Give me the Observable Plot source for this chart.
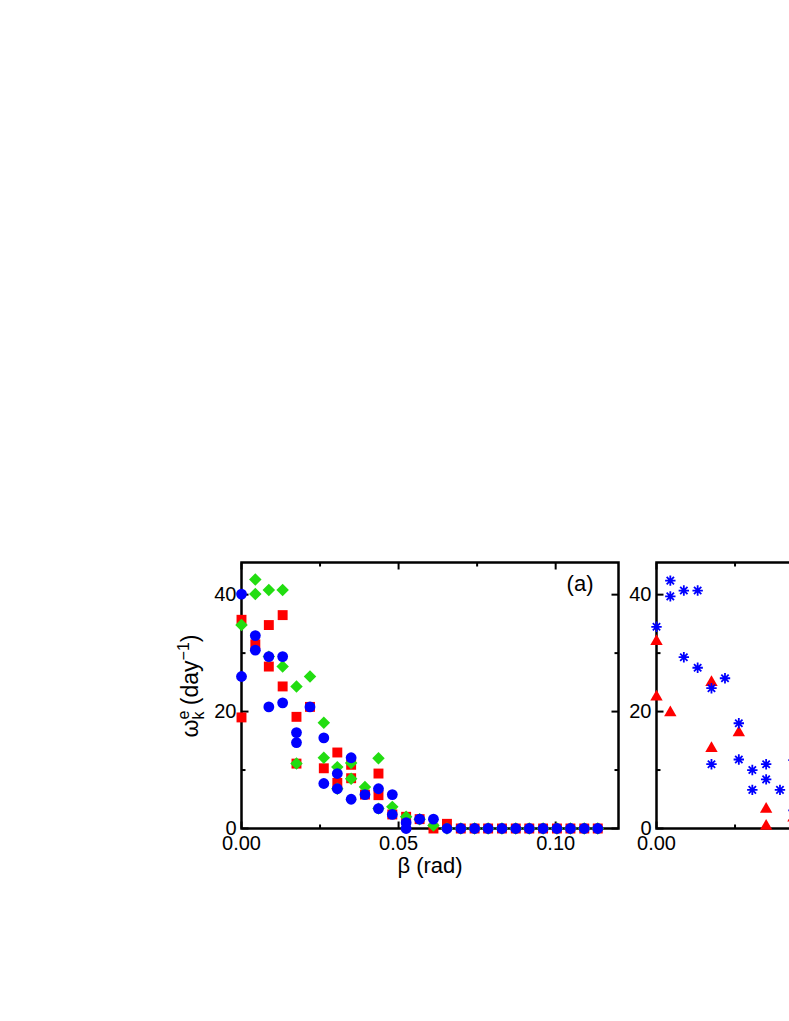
<!DOCTYPE html>
<html>
<head>
<meta charset="utf-8">
<script src="https://cdn.jsdelivr.net/npm/d3@7"></script>
<script src="https://cdn.jsdelivr.net/npm/@observablehq/plot@0.6"></script>
<style>
  html, body { margin: 0; padding: 0; background: #fff; overflow: hidden; width: 789px; height: 1021px; }
  #fig { position: relative; width: 789px; height: 1021px; overflow: hidden; }
  .panel { position: absolute; }
</style>
</head>
<body>
<div id="fig"></div>
<script>
// β grid (rad), steps of 0.25°
const betaGrid = [0, 0.0044, 0.0087, 0.0131, 0.0175, 0.0218, 0.0262, 0.0305, 0.0349, 0.0393,
  0.0436, 0.0480, 0.0524, 0.0567, 0.0611, 0.0654, 0.0698, 0.0742, 0.0785, 0.0829,
  0.0873, 0.0916, 0.0960, 0.1004, 0.1047, 0.1091, 0.1134];

// Panel (a): red squares
const squareIdx = [0,0,1,2,2,3,3,4,4,5,6,7,7,8,8,9,10,10,11,12,13,14,15,16,17,18,19,20,21,22,23,24,25,26];
const squareVal = [35.7,19.0,31.5,34.8,27.7,36.5,24.3,19.1,11.1,20.8,10.3,13.0,7.8,10.9,8.6,5.8,9.4,5.7,2.4,2.0,1.6,0,0.8,0,0,0,0,0,0,0,0,0,0,0];
// Panel (a): green diamonds
const diamondIdx = [0,1,1,2,2,3,3,4,4,5,6,6,7,7,8,8,9,10,10,11,12,13,14,15,16,17,18,19,20,21,22,23,24,25,26];
const diamondVal = [34.8,42.6,40.1,40.8,29.4,40.8,27.7,24.3,11.1,26.0,18.1,12.1,10.5,6.8,11.2,8.5,7.1,12.0,3.4,3.7,2.0,1.6,0.5,0,0,0,0,0,0,0,0,0,0,0,0];
// Panel (a): blue circles
const circleIdx = [0,0,1,1,2,2,3,3,4,4,5,6,6,7,7,8,8,9,10,10,11,11,12,12,13,14,15,16,17,18,19,20,21,22,23,24,25,26];
const circleVal = [40.1,26.0,33.0,30.5,29.4,20.8,29.4,21.5,16.4,14.7,20.8,15.5,7.7,9.4,6.8,12.1,5.0,5.8,6.8,3.4,5.8,2.4,1.0,0,1.6,1.6,0,0,0,0,0,0,0,0,0,0,0,0];

// Panel (b): blue asterisks
const asteriskIdx = [0,1,1,2,2,3,3,4,4,5,6,6,7,7,8,8,9,10,10];
const asteriskVal = [34.5,42.4,39.7,40.7,29.3,40.7,27.5,24.0,11.0,25.7,18.0,11.8,10.0,6.6,11.0,8.4,6.6,11.7,3.1];
// Panel (b): red triangles
const triangleIdx = [0,0,1,4,4,6,8,8,10];
const triangleVal = [32.0,22.5,19.8,25.0,13.7,16.4,3.3,0.4,1.8];

// Axis ticks
const xMajor = [0, 0.05, 0.10];
const xMinor = [0.025, 0.075];
const yMajor = [0, 20, 40];
const yMinor = [10, 30];
const xDomain = [0, 0.12];
const yDomain = [0, 45.5];

const RED = "#ff0000", GREEN = "#22dd11", BLUE = "#0000ff";
const fontFamily = '"Liberation Sans", Arial, Helvetica, sans-serif';

const toPoints = (idx, val) => idx.map((k, i) => ({beta: betaGrid[k], omega: val[i]}));

// custom symbols
const lineSym = (dx, dy) => ({draw(ctx) { ctx.moveTo(0, 0); ctx.lineTo(dx, dy); }});
const diamondSym = {draw(ctx, size) { const h = Math.sqrt(size / Math.PI) * 1.2; ctx.moveTo(0, -h); ctx.lineTo(h, 0); ctx.lineTo(0, h); ctx.lineTo(-h, 0); ctx.closePath(); }};
const starSym = {draw(ctx, size) { const r = Math.sqrt(size / Math.PI); const d = r * Math.SQRT1_2;
  ctx.moveTo(0, -r); ctx.lineTo(0, r); ctx.moveTo(-r, 0); ctx.lineTo(r, 0);
  ctx.moveTo(-d, -d); ctx.lineTo(d, d); ctx.moveTo(-d, d); ctx.lineTo(d, -d); }};

function frameTicks() {
  const L = 7, l = 4;
  const common = {stroke: "black", strokeWidth: 2, fill: "none"};
  return [
    Plot.dot(xMajor, {x: d => d, y: () => yDomain[0], symbol: lineSym(0, -L), ...common}),
    Plot.dot(xMinor, {x: d => d, y: () => yDomain[0], symbol: lineSym(0, -l), ...common}),
    Plot.dot(xMajor, {x: d => d, y: () => yDomain[1], symbol: lineSym(0, L), ...common}),
    Plot.dot(xMinor, {x: d => d, y: () => yDomain[1], symbol: lineSym(0, l), ...common}),
    Plot.dot(yMajor, {y: d => d, x: () => xDomain[0], symbol: lineSym(L, 0), ...common}),
    Plot.dot(yMinor, {y: d => d, x: () => xDomain[0], symbol: lineSym(l, 0), ...common}),
    Plot.dot(yMajor, {y: d => d, x: () => xDomain[1], symbol: lineSym(-L, 0), ...common}),
    Plot.dot(yMinor, {y: d => d, x: () => xDomain[1], symbol: lineSym(-l, 0), ...common})
  ];
}

function makePanel({ml, dataMarks, xLabels, textMarks}) {
  const fw = 377, fh = 266, mr = 5, mt = 10, mb = 50;
  return Plot.plot({
    width: ml + fw + mr, height: mt + fh + mb,
    marginLeft: ml, marginRight: mr, marginTop: mt, marginBottom: mb,
    x: {domain: xDomain},
    y: {domain: yDomain},
    style: {fontFamily, fontSize: "20px", color: "black", background: "transparent", maxWidth: "none", overflow: "visible"},
    marks: [
      Plot.axisX(xLabels, {tickSize: 0, tickPadding: 7, tickFormat: d3.format(".2f"), label: null}),
      Plot.axisY(yMajor, {tickSize: 0, tickPadding: 5, label: null}),
      Plot.frame({stroke: "black", strokeWidth: 2.5}),
      ...frameTicks(),
      ...dataMarks,
      ...textMarks
    ]
  });
}

const fig = document.getElementById("fig");

// Panel (a)
const chartA = makePanel({
  ml: 75, xLabels: xMajor,
  dataMarks: [
    Plot.dot(toPoints(squareIdx, squareVal), {x: "beta", y: "omega", symbol: "square", r: 5.6, fill: RED}),
    Plot.dot(toPoints(diamondIdx, diamondVal), {x: "beta", y: "omega", symbol: diamondSym, r: 5.2, fill: GREEN}),
    Plot.dot(toPoints(circleIdx, circleVal), {x: "beta", y: "omega", symbol: "circle", r: 5.4, fill: BLUE})
  ],
  textMarks: [
    Plot.text(["β (rad)"], {frameAnchor: "bottom", dy: 29, lineAnchor: "top", fontSize: 22}),
    Plot.text(["(a)"], {frameAnchor: "top-right", dx: -25, dy: 13, textAnchor: "end", lineAnchor: "top", fontSize: 22})
  ]
});
chartA.classList.add("panel");
chartA.style.left = "166px";
chartA.style.top = "552px";
fig.appendChild(chartA);

// y-axis label with stacked super/subscript
{
  const t = d3.select(chartA).append("text")
    .attr("transform", "translate(32,134) rotate(-90)")
    .attr("text-anchor", "middle")
    .attr("fill", "black")
    .style("font-family", fontFamily)
    .style("font-size", "23px");
  t.append("tspan").text("ω");
  t.append("tspan").attr("font-size", "16px").attr("dy", "-9").text("e");
  t.append("tspan").attr("font-size", "16px").attr("dx", "-9").attr("dy", "15").text("k");
  t.append("tspan").attr("dy", "-6").text(" (day");
  t.append("tspan").attr("font-size", "16px").attr("dy", "-9").text("−1");
  t.append("tspan").attr("dy", "9").text(")");
}

// Panel (b)
const chartB = makePanel({
  ml: 35, xLabels: [0],
  dataMarks: [
    Plot.dot(toPoints(triangleIdx, triangleVal), {x: "beta", y: "omega", symbol: "triangle", r: 4.6, fill: RED}),
    Plot.dot(toPoints(asteriskIdx, asteriskVal), {x: "beta", y: "omega", symbol: starSym, r: 5.2, stroke: BLUE, strokeWidth: 1.8, fill: "none"})
  ],
  textMarks: []
});
chartB.classList.add("panel");
chartB.style.left = "620.7px";
chartB.style.top = "552px";
fig.appendChild(chartB);
</script>
</body>
</html>
